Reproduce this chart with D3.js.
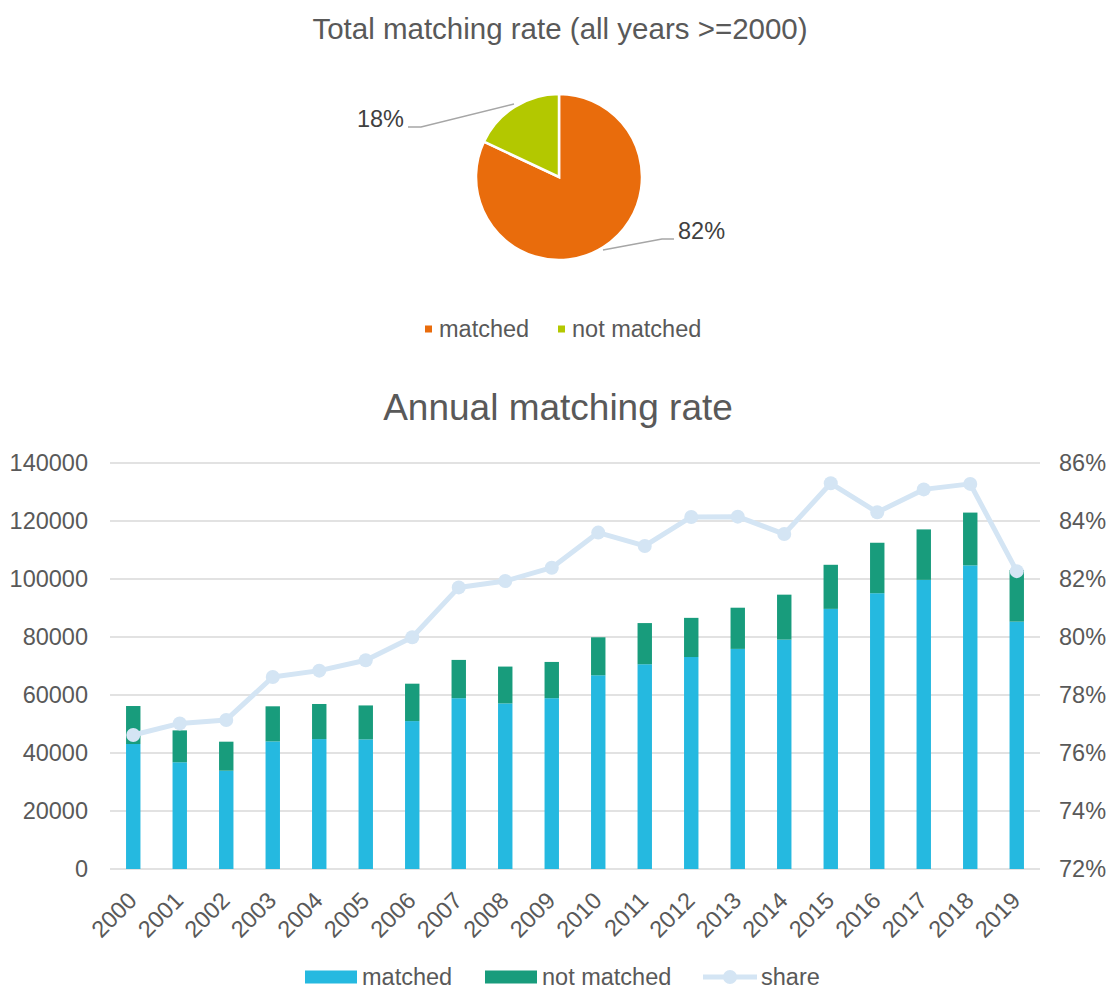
<!DOCTYPE html>
<html>
<head>
<meta charset="utf-8">
<script src="https://cdn.jsdelivr.net/npm/d3@7"></script>
<style>
  body { margin: 0; background: #fff; }
  svg { display: block; font-family: Arial, "Liberation Sans", sans-serif; }
</style>
</head>
<body>
<svg id="chart"></svg>
<script>
// pie data
const pieLabels = ["matched", "not matched"];
const pieShares = [0.82, 0.18];

// annual data
const years = ["2000","2001","2002","2003","2004","2005","2006","2007","2008","2009",
               "2010","2011","2012","2013","2014","2015","2016","2017","2018","2019"];
const matched = [43100, 36800, 33900, 44000, 44800, 44700, 51000, 58900, 57100, 58900,
                 66800, 70600, 73100, 75900, 79100, 89700, 95100, 99700, 104700, 85300];
const notMatched = [13100, 11000, 10000, 12100, 12100, 11700, 12900, 13200, 12700, 12500,
                    13100, 14200, 13500, 14200, 15500, 15200, 17400, 17400, 18200, 17800];
const share = [0.7662, 0.7702, 0.7714, 0.7862, 0.7884, 0.7920, 0.7999, 0.8171, 0.8193, 0.8239,
               0.8360, 0.8314, 0.8414, 0.8415, 0.8355, 0.8530, 0.8430, 0.8509, 0.8528, 0.8227];
const leftTicks = [0, 20000, 40000, 60000, 80000, 100000, 120000, 140000];
const rightTicks = [0.72, 0.74, 0.76, 0.78, 0.80, 0.82, 0.84, 0.86];

const W = 1113, H = 990;
const textCol = "#595959";
const fs = "23.5px";
const svg = d3.select("#chart").attr("width", W).attr("height", H);

// ---------- pie ----------
const pieColors = ["#E96C0C", "#B3C800"];
svg.append("text")
  .attr("x", 560).attr("y", 39)
  .attr("text-anchor", "middle")
  .attr("font-size", "29.5px")
  .attr("fill", textCol)
  .text("Total matching rate (all years >=2000)");

const cx = 559, cy = 177, r = 83;
const pieG = svg.append("g").attr("transform", `translate(${cx},${cy})`);
const arcs = d3.pie().sort(null)(pieShares);
const arc = d3.arc().innerRadius(0).outerRadius(r);

pieG.selectAll("path")
  .data(arcs)
  .join("path")
  .attr("d", arc)
  .attr("fill", (d, i) => pieColors[i])
  .attr("stroke", "#fff")
  .attr("stroke-width", 2.5);

// leader lines + labels
const leaders = [
  { pts: [[603, 250], [662, 239], [674, 239]], lx: 678, ly: 239, anchor: "start" },
  { pts: [[514, 104], [421, 127], [408, 127]], lx: 404, ly: 127, anchor: "end" }
];
leaders.forEach((l, i) => {
  svg.append("path")
    .attr("d", d3.line()(l.pts))
    .attr("fill", "none")
    .attr("stroke", "#a6a6a6")
    .attr("stroke-width", 1.3);
  svg.append("text")
    .attr("x", l.lx).attr("y", l.ly)
    .attr("text-anchor", l.anchor)
    .attr("font-size", fs)
    .attr("fill", "#404040")
    .text(d3.format(".0%")(pieShares[i]));
});

// pie legend
const pieLegX = [425, 558];
pieLabels.forEach((name, i) => {
  svg.append("rect")
    .attr("x", pieLegX[i]).attr("y", 325.5)
    .attr("width", 7).attr("height", 7)
    .attr("fill", pieColors[i]);
  svg.append("text")
    .attr("x", pieLegX[i] + 14).attr("y", 329)
    .attr("dy", "0.35em")
    .attr("font-size", fs)
    .attr("fill", textCol)
    .text(name);
});

// ---------- annual bars ----------
const barColors = { matched: "#25B9E0", notMatched: "#189C7C", share: "#D4E5F4" };

svg.append("text")
  .attr("x", 558).attr("y", 420)
  .attr("text-anchor", "middle")
  .attr("font-size", "37px")
  .attr("fill", textCol)
  .text("Annual matching rate");

const plotLeft = 110, plotRight = 1040, plotTop = 463, plotBottom = 869;

const x = d3.scaleBand()
  .domain(years)
  .range([plotLeft, plotRight])
  .paddingInner(0.69)
  .paddingOuter(0.345);

const y = d3.scaleLinear().domain([0, 140000]).range([plotBottom, plotTop]);
const y2 = d3.scaleLinear().domain([0.72, 0.86]).range([plotBottom, plotTop]);

// gridlines
svg.append("g")
  .selectAll("line")
  .data(leftTicks)
  .join("line")
  .attr("x1", plotLeft).attr("x2", plotRight)
  .attr("y1", d => y(d)).attr("y2", d => y(d))
  .attr("stroke", "#d9d9d9")
  .attr("stroke-width", 1.5);

// left axis
const yAxis = svg.append("g")
  .attr("transform", `translate(${plotLeft - 22},0)`)
  .call(d3.axisLeft(y).tickValues(leftTicks).tickSize(0).tickPadding(0).tickFormat(d3.format("d")));
yAxis.select(".domain").remove();
yAxis.selectAll("text").attr("font-size", fs).attr("fill", textCol).attr("font-family", null);

// right axis
const y2Axis = svg.append("g")
  .attr("transform", `translate(${plotRight + 19},0)`)
  .call(d3.axisRight(y2).tickValues(rightTicks).tickSize(0).tickPadding(0).tickFormat(d3.format(".0%")));
y2Axis.select(".domain").remove();
y2Axis.selectAll("text").attr("font-size", fs).attr("fill", textCol).attr("font-family", null);

// stacked bars
const rows = years.map((yr, i) => ({ year: yr, matched: matched[i], notMatched: notMatched[i] }));
const stack = d3.stack().keys(["matched", "notMatched"])(rows);

svg.append("g")
  .selectAll("g")
  .data(stack)
  .join("g")
  .attr("fill", d => barColors[d.key])
  .selectAll("rect")
  .data(d => d)
  .join("rect")
  .attr("x", d => x(d.data.year))
  .attr("width", x.bandwidth())
  .attr("y", d => y(d[1]))
  .attr("height", d => y(d[0]) - y(d[1]));

// share line
const cxs = d => x(d) + x.bandwidth() / 2;
const lineData = years.map((yr, i) => [cxs(yr), y2(share[i])]);
svg.append("path")
  .attr("d", d3.line()(lineData))
  .attr("fill", "none")
  .attr("stroke", barColors.share)
  .attr("stroke-width", 5)
  .attr("stroke-linejoin", "round");
svg.append("g")
  .selectAll("circle")
  .data(lineData)
  .join("circle")
  .attr("cx", d => d[0]).attr("cy", d => d[1])
  .attr("r", 7)
  .attr("fill", barColors.share);

// x labels
svg.append("g")
  .selectAll("text")
  .data(years)
  .join("text")
  .attr("transform", d => `translate(${cxs(d) + 5},${plotBottom + 33}) rotate(-45)`)
  .attr("text-anchor", "end")
  .attr("font-size", fs)
  .attr("fill", textCol)
  .text(d => d);

// bottom legend
const legY = 977;
const legItems = [
  { key: "matched", label: "matched", x: 305 },
  { key: "notMatched", label: "not matched", x: 485 },
  { key: "share", label: "share", x: 703 }
];
legItems.forEach(it => {
  if (it.key === "share") {
    svg.append("line")
      .attr("x1", it.x).attr("x2", it.x + 54)
      .attr("y1", legY).attr("y2", legY)
      .attr("stroke", barColors.share).attr("stroke-width", 5);
    svg.append("circle")
      .attr("cx", it.x + 27).attr("cy", legY).attr("r", 7)
      .attr("fill", barColors.share);
  } else {
    svg.append("rect")
      .attr("x", it.x).attr("y", legY - 6.5)
      .attr("width", 52).attr("height", 13)
      .attr("fill", barColors[it.key]);
  }
  svg.append("text")
    .attr("x", it.x + (it.key === "share" ? 58 : 57)).attr("y", legY)
    .attr("dy", "0.35em")
    .attr("font-size", fs)
    .attr("fill", textCol)
    .text(it.label);
});
</script>
</body>
</html>
